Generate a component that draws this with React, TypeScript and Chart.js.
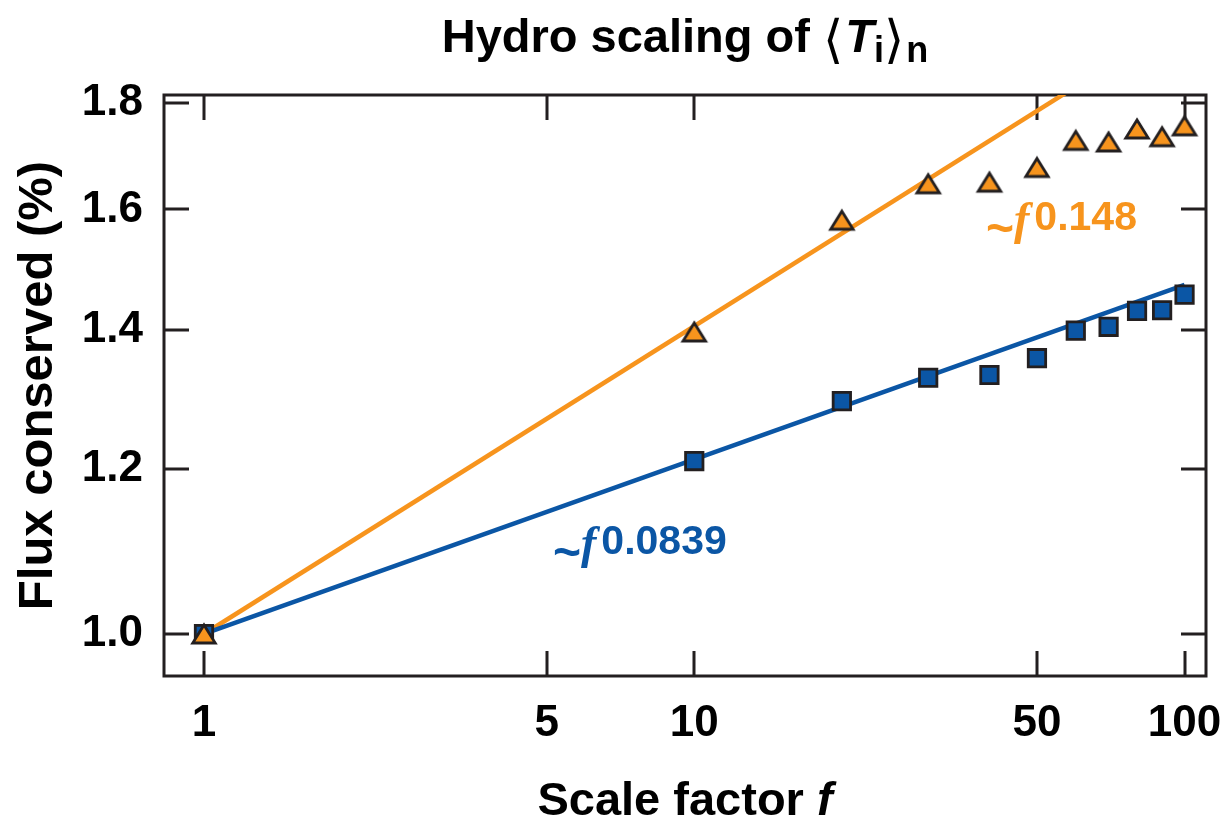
import React, { useEffect, useRef } from 'react';
import { Chart, registerables } from 'chart.js';

Chart.register(...registerables);

// Scale factor f at which each simulation was run
const scaleFactors = [1, 10, 20, 30, 40, 50, 60, 70, 80, 90, 100];
// Flux conserved (%) – square markers (blue series)
const fluxSquares = [1.0, 1.211, 1.294, 1.328, 1.332, 1.357, 1.399, 1.405, 1.43, 1.431, 1.456];
// Flux conserved (%) – triangle markers (orange series)
const fluxTriangles = [1.0, 1.397, 1.581, 1.646, 1.649, 1.676, 1.727, 1.724, 1.749, 1.734, 1.755];

// Power-law fits ~ f^k
const blueExponent = 0.0839;
const orangeExponent = 0.148;
const blueExponentLabel = '0.0839';
const orangeExponentLabel = '0.148';
const fitRange = [1, 100];

const xTickValues = [1, 5, 10, 50, 100];
const yTickValues = [1.0, 1.2, 1.4, 1.6, 1.8];

const BLUE = '#0B56A5';
const ORANGE = '#F7941D';
const INK = '#231F20';
const SANS = '"Liberation Sans", Arial, sans-serif';
const SERIF = '"Liberation Serif", "Times New Roman", serif';
const MATH = '"DejaVu Sans", sans-serif';

type Run = { text: string; font: string; dy?: number; dx?: number; color?: string };

function drawRuns(ctx: CanvasRenderingContext2D, runs: Run[], x: number, y: number, align: 'left' | 'center') {
  ctx.save();
  ctx.textBaseline = 'alphabetic';
  ctx.textAlign = 'left';
  let total = 0;
  const widths = runs.map((r) => {
    ctx.font = r.font;
    const w = ctx.measureText(r.text).width + (r.dx || 0);
    total += w;
    return w;
  });
  let cx = align === 'center' ? x - total / 2 : x;
  runs.forEach((r, i) => {
    ctx.font = r.font;
    ctx.fillStyle = r.color || '#000';
    ctx.fillText(r.text, cx + (r.dx || 0), y + (r.dy || 0));
    cx += widths[i];
  });
  ctx.restore();
}

function makeTriangle(fill: string, stroke: string) {
  const c = document.createElement('canvas');
  c.width = 36;
  c.height = 34;
  const ctx = c.getContext('2d')!;
  const w = 22.5;
  const h = 18;
  const cx = c.width / 2;
  const cy = c.height / 2;
  ctx.beginPath();
  ctx.moveTo(cx, cy - h / 2);
  ctx.lineTo(cx + w / 2, cy + h / 2);
  ctx.lineTo(cx - w / 2, cy + h / 2);
  ctx.closePath();
  ctx.fillStyle = fill;
  ctx.fill();
  ctx.lineWidth = 2.8;
  ctx.lineJoin = 'miter';
  ctx.strokeStyle = stroke;
  ctx.stroke();
  return c;
}

const framePlugin = {
  id: 'frame',
  beforeDatasetsDraw(chart: any) {
    const { ctx, chartArea: a, scales } = chart;
    ctx.save();
    ctx.strokeStyle = INK;
    ctx.lineWidth = 3;
    ctx.lineCap = 'butt';
    const L = 25;
    ctx.beginPath();
    for (const v of xTickValues) {
      const x = Math.round(scales.x.getPixelForValue(v));
      ctx.moveTo(x, a.bottom);
      ctx.lineTo(x, a.bottom - L);
      ctx.moveTo(x, a.top);
      ctx.lineTo(x, a.top + L);
    }
    for (const v of yTickValues) {
      const y = Math.round(scales.y.getPixelForValue(v));
      ctx.moveTo(a.left, y);
      ctx.lineTo(a.left + L, y);
      ctx.moveTo(a.right, y);
      ctx.lineTo(a.right - L, y);
    }
    ctx.stroke();
    ctx.strokeRect(a.left, a.top, a.right - a.left, a.bottom - a.top);
    ctx.restore();
  },
};

const textPlugin = {
  id: 'texts',
  afterDraw(chart: any) {
    const { ctx, chartArea: a } = chart;
    const mid = (a.left + a.right) / 2;

    // Title: Hydro scaling of <T_i>_n
    drawRuns(
      ctx,
      [
        { text: 'Hydro scaling of ', font: `bold 47px ${SANS}` },
        { text: '\u27E8', font: `52px ${MATH}`, dy: 5 },
        { text: 'T', font: `italic bold 47px ${SANS}`, dx: 2 },
        { text: 'i', font: `bold 36px ${SANS}`, dy: 10 },
        { text: '\u27E9', font: `52px ${MATH}`, dy: 5 },
        { text: 'n', font: `bold 36px ${SANS}`, dy: 10, dx: 2 },
      ],
      mid,
      52,
      'center'
    );

    // x-axis title
    drawRuns(
      ctx,
      [
        { text: 'Scale factor ', font: `bold 47px ${SANS}` },
        { text: 'f', font: `italic bold 47px ${SANS}` },
      ],
      mid,
      815,
      'center'
    );

    // y-axis title
    ctx.save();
    ctx.translate(52, (a.top + a.bottom) / 2);
    ctx.rotate(-Math.PI / 2);
    drawRuns(ctx, [{ text: 'Flux conserved (%)', font: `bold 49px ${SANS}` }], 0, 0, 'center');
    ctx.restore();

    // fit annotations
    const fitLabel = (x: number, y: number, exp: string, color: string) =>
      drawRuns(
        ctx,
        [
          { text: '~', font: `bold 48px ${SANS}`, dy: 10, color },
          { text: 'f', font: `italic bold 46px ${SERIF}`, dx: 0, color },
          { text: exp, font: `bold 41px ${SANS}`, dy: -4, dx: 5, color },
        ],
        x,
        y,
        'left'
      );
    fitLabel(986, 234, orangeExponentLabel, ORANGE);
    fitLabel(553, 558, blueExponentLabel, BLUE);
  },
};

export default function App() {
  const ref = useRef<HTMLCanvasElement>(null);

  useEffect(() => {
    document.body.style.margin = '0';
    const canvas = ref.current!;
    const triangle = makeTriangle(ORANGE, INK);
    const tickFont = { family: SANS, weight: 'bold' as const, size: 44 };

    const chart = new Chart(canvas, {
      type: 'line',
      data: {
        datasets: [
          {
            label: 'triangles',
            data: scaleFactors.map((x, i) => ({ x, y: fluxTriangles[i] })),
            showLine: false,
            pointStyle: triangle as any,
            pointRadius: 14,
            order: 0,
          },
          {
            label: 'squares',
            data: scaleFactors.map((x, i) => ({ x, y: fluxSquares[i] })),
            showLine: false,
            pointStyle: 'rect',
            pointRadius: 12.3,
            pointBackgroundColor: BLUE,
            pointBorderColor: INK,
            pointBorderWidth: 2.8,
            order: 1,
          },
          {
            label: 'blue fit',
            data: fitRange.map((x) => ({ x, y: Math.pow(x, blueExponent) })),
            borderColor: BLUE,
            borderWidth: 4.5,
            pointRadius: 0,
            order: 2,
          },
          {
            label: 'orange fit',
            data: fitRange.map((x) => ({ x, y: Math.pow(x, orangeExponent) })),
            borderColor: ORANGE,
            borderWidth: 4.5,
            pointRadius: 0,
            order: 3,
          },
        ],
      },
      options: {
        responsive: false,
        animation: false,
        devicePixelRatio: 1,
        layout: { padding: { top: 95, right: 24, left: 0, bottom: 0 } },
        plugins: { legend: { display: false }, tooltip: { enabled: false }, title: { display: false } },
        scales: {
          x: {
            type: 'logarithmic',
            min: 0.8288,
            max: 110.6,
            grid: { display: false },
            border: { display: false },
            afterBuildTicks: (s: any) => {
              s.ticks = xTickValues.map((v) => ({ value: v }));
            },
            afterFit: (s: any) => {
              s.height = 144;
              s.paddingLeft = 0;
              s.paddingRight = 0;
            },
            ticks: {
              autoSkip: false,
              maxRotation: 0,
              padding: 13,
              color: '#000',
              font: tickFont,
              callback: (v: any) => String(v),
            },
          },
          y: {
            type: 'logarithmic',
            min: 0.95456,
            max: 1.816,
            grid: { display: false },
            border: { display: false },
            afterBuildTicks: (s: any) => {
              s.ticks = yTickValues.map((v) => ({ value: v }));
            },
            afterFit: (s: any) => {
              s.width = 164;
              s.paddingTop = 0;
              s.paddingBottom = 0;
            },
            ticks: {
              autoSkip: false,
              padding: 13,
              color: '#000',
              font: tickFont,
              callback: (v: any) => Number(v).toFixed(1),
            },
          },
        },
      },
      plugins: [framePlugin, textPlugin],
    } as any);

    return () => chart.destroy();
  }, []);

  return (
    <div style={{ width: 1230, height: 820 }}>
      <canvas ref={ref} width={1230} height={820} style={{ display: 'block' }} />
    </div>
  );
}
